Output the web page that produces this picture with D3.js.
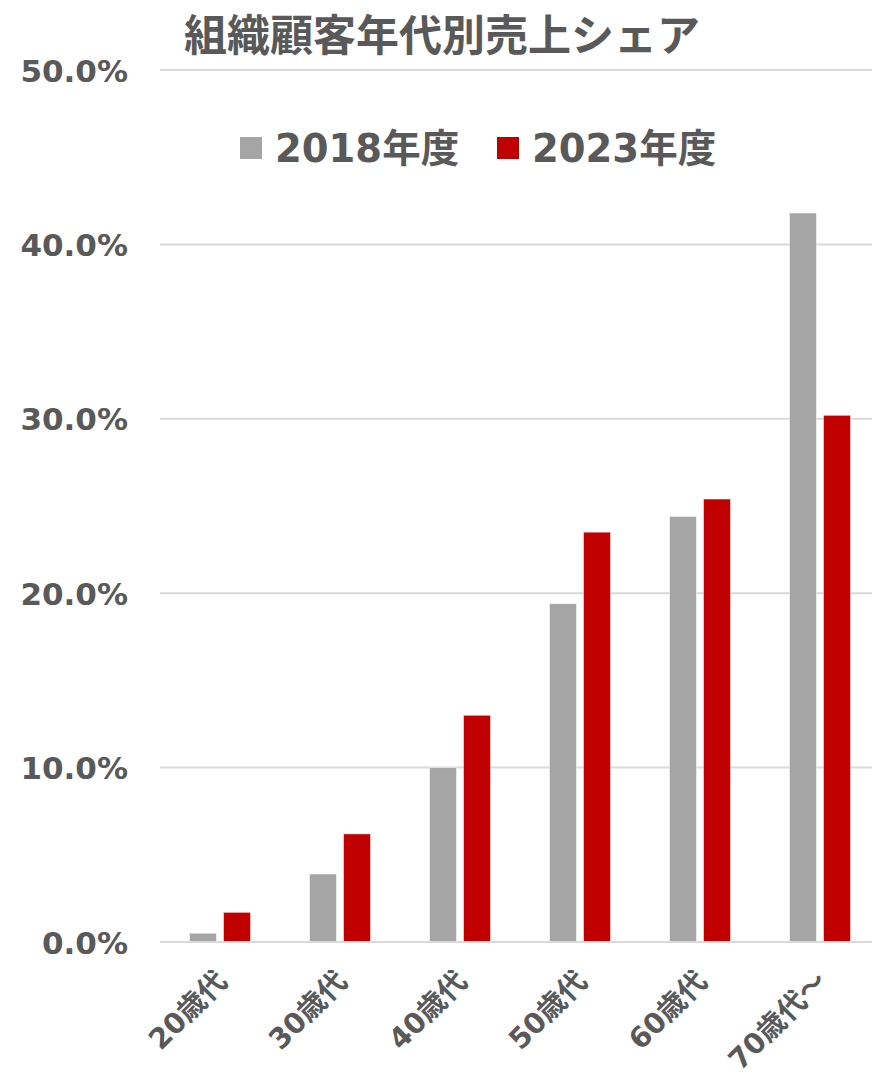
<!DOCTYPE html>
<html><head><meta charset="utf-8">
<script src="https://cdn.jsdelivr.net/npm/d3@7"></script>
<style>
html,body{margin:0;padding:0;background:#fff;}
svg text{font-family:"DejaVu Sans","Noto Sans CJK JP",sans-serif;font-weight:bold;fill:#595959;}
</style></head>
<body>
<svg id="chart" width="872" height="1075"></svg>
<script>
const title = "組織顧客年代別売上シェア";
const categories = ["20歳代","30歳代","40歳代","50歳代","60歳代","70歳代～"];
const seriesNames = ["2018年度","2023年度"];
const values2018 = [0.5, 3.9, 10.0, 19.4, 24.4, 41.8];
const values2023 = [1.7, 6.2, 13.0, 23.5, 25.4, 30.2];
const yTicks = [0, 10, 20, 30, 40, 50];
const colors = ["#a5a5a5", "#c00000"];

const svg = d3.select("#chart");
const plotLeft = 160, plotRight = 880, plotTop = 70, plotBottom = 942;

const x0 = d3.scaleBand().domain(categories).range([plotLeft, plotRight]).paddingInner(59/120).paddingOuter(59/240);
const x1 = d3.scaleBand().domain(seriesNames).range([0, x0.bandwidth()]).paddingInner(0.206);
const y = d3.scaleLinear().domain([0, 50]).range([plotBottom, plotTop]);

// gridlines
svg.append("g").selectAll("line").data(yTicks).join("line")
  .attr("x1", plotLeft).attr("x2", 872)
  .attr("y1", d => y(d)).attr("y2", d => y(d))
  .attr("stroke", "#d9d9d9").attr("stroke-width", 2);

// y axis labels
const yAxis = d3.axisLeft(y).tickValues(yTicks).tickFormat(d => d.toFixed(1) + "%").tickSize(0).tickPadding(0);
const yg = svg.append("g").attr("transform", "translate(128,0)").call(yAxis);
yg.select(".domain").remove();
yg.attr("font-family", null).attr("font-size", null);
yg.selectAll("text").attr("font-size", 31).attr("fill", "#595959").attr("dy", "0.36em");

// bars
const data = categories.map((c, i) => ({cat: c, vals: [values2018[i], values2023[i]]}));
const groups = svg.append("g").selectAll("g").data(data).join("g")
  .attr("transform", d => `translate(${x0(d.cat)},0)`);
groups.selectAll("rect").data(d => d.vals.map((v, j) => ({s: seriesNames[j], v, j})))
  .join("rect")
  .attr("x", d => x1(d.s)).attr("width", x1.bandwidth())
  .attr("y", d => y(d.v)).attr("height", d => y(0) - y(d.v))
  .attr("fill", d => colors[d.j])
  .attr("stroke", "#ffffff").attr("stroke-opacity", 0.5).attr("stroke-width", 1);

// baseline
svg.append("line").attr("x1", plotLeft).attr("x2", 872).attr("y1", y(0)).attr("y2", y(0))
  .attr("stroke", "#d9d9d9").attr("stroke-width", 2);

// x labels
svg.append("g").selectAll("text").data(categories).join("text")
  .attr("text-anchor", "end")
  .attr("font-size", 28.5)
  .attr("transform", d => `translate(${x0(d) + x0.bandwidth()/2 + 9},983) rotate(-45)`)
  .text(d => d);

// title
svg.append("text").attr("x", 442).attr("y", 51).attr("text-anchor", "middle")
  .attr("font-size", 43).text(title);

// legend
const legX = [240, 497];
const leg = svg.append("g").selectAll("g").data(seriesNames).join("g")
  .attr("transform", (d, i) => `translate(${legX[i]},137)`);
leg.append("rect").attr("width", 22).attr("height", 22).attr("fill", (d, i) => colors[i]);
leg.append("text").attr("x", 35).attr("y", 25).attr("font-size", 38.5).text(d => d);
</script>
</body></html>
